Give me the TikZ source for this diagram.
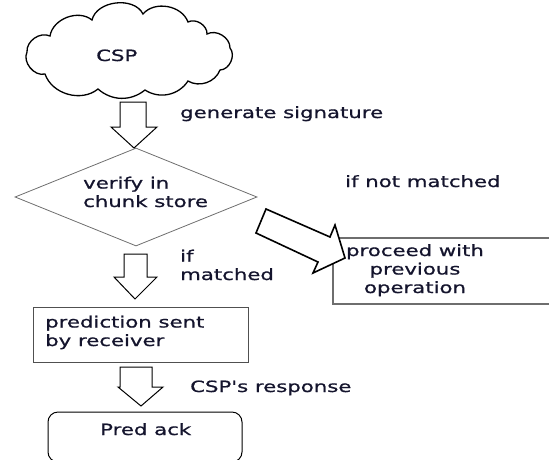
\documentclass[tikz,border=0pt]{standalone}
\usepackage{fontspec}
\usetikzlibrary{shapes.geometric}
\newfontfamily\lbl[FakeStretch=1.37,FakeBold=0.8]{DejaVu Sans}
\definecolor{txt}{RGB}{20,20,45}
\definecolor{edgegrey}{RGB}{110,110,110}
\definecolor{boxgrey}{RGB}{80,80,80}
\tikzset{
  lab/.style={font=\lbl\fontsize{15.5}{18.5}\selectfont, text=txt, inner sep=0pt},
  blockarrow/.style={draw=black, line width=1pt, fill=white, line join=miter},
}
\begin{document}
\begin{tikzpicture}[x=1pt, y=-1pt]
\useasboundingbox (0,0) rectangle (549,459);
\clip (0,0) rectangle (549,459);

% cloud for the service provider
\draw[line width=1.3pt, fill=white]
  (45,74) to[bend left=65] (27,52) to[bend left=60] (50,36)
  to[bend left=60] (92,20) to[bend left=70] (143,14)
  to[bend left=60] (188,22) to[bend left=60] (207,34)
  to[bend left=60] (230,48) to[bend left=65] (220,70)
  to[bend left=50] (188,81) to[bend left=45] (145,90)
  to[bend left=40] (98,89) to[bend left=55] cycle;
\node[lab, anchor=base west] (csp) at (96,61) {CSP};

% decision diamond
\node[diamond, draw=edgegrey, line width=0.8pt, minimum width=242pt,
      minimum height=98pt, inner sep=0pt] (verify) at (136,197) {};
\node[lab, anchor=base west, align=left] (verifytxt) at (83,207) {verify in\\chunk store};

% boxes
\node[draw=boxgrey, line width=1.2pt, minimum width=215pt, minimum height=55pt,
      inner sep=0pt, anchor=north west] (pred) at (33,307) {};
\node[lab, anchor=base west, align=left] (predtxt) at (45,346) {prediction sent\\by receiver};

\node[draw=edgegrey, line width=1.8pt, minimum width=240pt, minimum height=66pt,
      inner sep=0pt, anchor=north west] (proceed) at (332,237) {};
\node[lab, anchor=base, align=center] (proceedtxt) at (415,293) {proceed with\\previous\\operation};

\draw[line width=1pt, rounded corners=10pt] (48,412) rectangle (242,462);
\coordinate (ackbox) at (145,412);
\node[lab, anchor=base west] (ack) at (100,435) {Pred ack};

% block arrows
\draw[blockarrow] (120,102) -- (146,102) -- (146,127) -- (157,127) -- (134,148)
  -- (111,127) -- (120,127) -- cycle;
\draw[blockarrow] (124,254) -- (147,254) -- (147,277) -- (157,277) -- (135,299)
  -- (114,277) -- (124,277) -- cycle;
\draw[blockarrow] (120,367) -- (152,367) -- (152,387) -- (163,387) -- (141,406)
  -- (118,387) -- (120,387) -- cycle;
\draw[blockarrow, line width=1.6pt] (266,209) -- (330,237) -- (335,225) -- (345,258)
  -- (313,273) -- (318,262) -- (256,233) -- cycle;

% edge labels
\node[lab, anchor=base west] (gen) at (180,118) {generate signature};
\node[lab, anchor=base west] (notm) at (345,187) {if not matched};
\node[lab, anchor=base west, align=left] (ifm) at (180,280) {if\\matched};
\node[lab, anchor=base west] (resp) at (190,392) {CSP's response};
\end{tikzpicture}
\end{document}
